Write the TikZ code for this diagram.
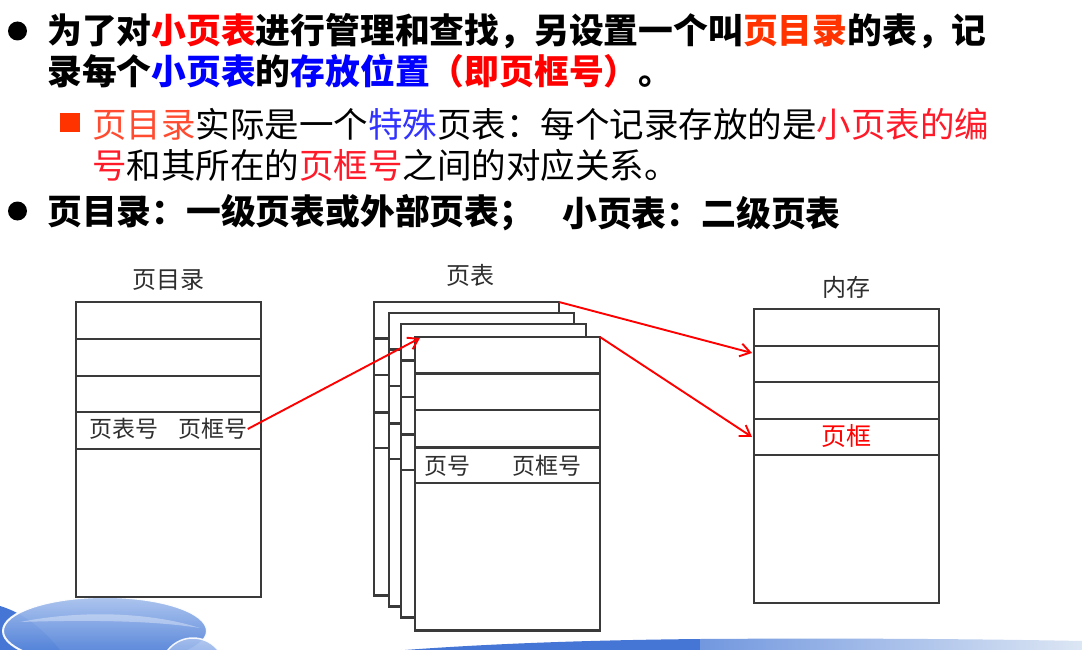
\documentclass[tikz,border=0pt]{standalone}
\usepackage{fontspec}
\setmainfont{Noto Sans CJK SC}
\usetikzlibrary{arrows.meta,calc}

\definecolor{boxline}{HTML}{3A3A3A}
\definecolor{lblgray}{HTML}{2E2E2E}
\definecolor{hired}{HTML}{FF0000}
\definecolor{hiorange}{HTML}{FF3300}
\definecolor{hiblue}{HTML}{0000FF}
\definecolor{subcoral}{HTML}{FF4B30}
\definecolor{subblue}{HTML}{3333FF}
\definecolor{subred}{HTML}{FF1A2A}
\definecolor{bubbledark}{HTML}{3F74D4}
\definecolor{bubblelight}{HTML}{A9C2EE}
\definecolor{banddark}{HTML}{4576D6}
\definecolor{bandlight}{HTML}{DCE6F4}

\tikzset{
  headline/.style={anchor=west, inner sep=0pt, font=\fontsize{34.8}{40}\selectfont\bfseries},
  subline/.style={anchor=west, inner sep=0pt, font=\fontsize{34.5}{40}\selectfont},
  tabtitle/.style={inner sep=0pt, text=lblgray, font=\fontsize{24}{28}\selectfont},
  celltext/.style={inner sep=0pt, text=lblgray, font=\fontsize{23}{26}\selectfont},
  cell/.style={draw=boxline, line width=2.2pt, fill=white, minimum width=185pt,
               anchor=north west, inner sep=0pt, outer sep=0pt},
  link/.style={draw=red, line width=1.9pt, -{Straight Barb[length=10pt,width=13pt]}},
}

% one page table: four record rows and the remaining body
\newcommand\pagesheet[3]{%
  \node[cell, minimum height=36.5pt] (#1r1) at (#2,#3) {};
  \node[cell, minimum height=36.5pt] (#1r2) at (#1r1.south west) {};
  \node[cell, minimum height=37.5pt] (#1r3) at (#1r2.south west) {};
  \node[cell, minimum height=35.5pt] (#1r4) at (#1r3.south west) {};
  \node[cell, minimum height=147.5pt] (#1r5) at (#1r4.south west) {};
}

\begin{document}
\begin{tikzpicture}[x=1pt,y=-1pt]
\useasboundingbox (0,0) rectangle (1082,650);
\fill[white] (0,0) rectangle (1082,650);

% ---- bottom decoration ----
\fill[banddark] (0,606) .. controls (20,612) and (40,625) .. (60,650) -- (0,650) -- cycle;
\shade[top color=bubblelight, bottom color=bubbledark, draw=white, line width=2pt, opacity=0.95]
  (105,631) ellipse [x radius=102, y radius=34];
\fill[white, opacity=0.35] (20,622) .. controls (80,610) and (150,612) .. (200,628)
  .. controls (150,620) and (80,620) .. (20,622) -- cycle;
\shade[top color=bubblelight, bottom color=bubbledark, draw=white, line width=1.5pt, opacity=0.9]
  (193,670) circle [radius=32];
\fill[banddark]
  (405,650) .. controls (500,643) and (600,640) .. (700,639) -- (700,650) -- cycle;
\shade[left color=banddark!70!bandlight, right color=bandlight]
  (700,639) .. controls (850,638) and (980,639) .. (1082,641) -- (1082,650) -- (700,650) -- cycle;

% ---- text ----
\fill[black] (17.5,31) circle [radius=9.5];
\node[headline] (t1) at (47,31) {为了对\textcolor{hired}{小页表}进行管理和查找，另设置一个叫\textcolor{hiorange}{页目录}的表，记};
\node[headline] (t2) at (47,71) {录每个\textcolor{hiblue}{小页表}的\textcolor{hiblue}{存放位置}\textcolor{hired}{（即页框号）}。};
\fill[hiorange] (60,113) rectangle (79.5,132);
\node[subline] (t3) at (92,124) {\textcolor{subcoral}{页目录}实际是一个\textcolor{subblue}{特殊}页表：每个记录存放的是\textcolor{subred}{小页表的编}};
\node[subline] (t4) at (92,165) {\textcolor{subred}{号}和其所在的\textcolor{subred}{页框号}之间的对应关系。};
\fill[black] (17.5,211) circle [radius=9.5];
\node[headline] (t5) at (47,213) {页目录：一级页表或外部页表；};
\node[headline] (t6) at (562,213) {小页表：二级页表};

% ---- page directory ----
\node[tabtitle] (dirtitle) at (168,280) {页目录};
\node[cell, minimum height=37pt] (d1) at (76,302) {};
\node[cell, minimum height=37pt] (d2) at (d1.south west) {};
\node[cell, minimum height=36pt] (d3) at (d2.south west) {};
\node[cell, minimum height=37pt] (d4) at (d3.south west) {};
\node[cell, minimum height=148pt] (d5) at (d4.south west) {};
\node[celltext] (dpt) at (124,429) {页表号};
\node[celltext] (dfr) at (213,429) {页框号};

% ---- stack of page tables ----
\node[tabtitle] (pttitle) at (470,275) {页表};
\pagesheet{sa}{374}{302}
\pagesheet{sb}{389}{313}
\pagesheet{sc}{401}{324}
\pagesheet{sd}{415}{337}
\node[celltext] (ppg) at (447,466) {页号};
\node[celltext] (pfr) at (547,466) {页框号};

% ---- main memory ----
\node[tabtitle] (memtitle) at (846,287) {内存};
\node[cell, minimum height=37pt] (m1) at (754,309) {};
\node[cell, minimum height=36pt] (m2) at (m1.south west) {};
\node[cell, minimum height=37pt] (m3) at (m2.south west) {};
\node[cell, minimum height=36pt] (m4) at (m3.south west) {};
\node[cell, minimum height=148pt] (m5) at (m4.south west) {};
\node[celltext, text=red, font=\fontsize{25}{28}\selectfont] (mfr) at (846,436) {页框};
\coordinate (m2in) at ($(m2.north west)+(-2,7)$);

% ---- links ----
\draw[link] (dfr.east) -- ($(sdr1.north west)+(5,1)$);
\draw[link] (sar1.north east) -- (m2in);
\draw[link] (sdr1.north east) -- ($(m4.west)+(-2,0)$);
\end{tikzpicture}
\end{document}
